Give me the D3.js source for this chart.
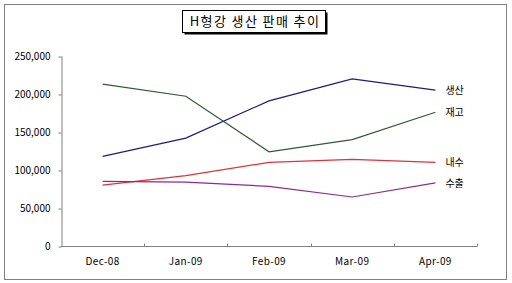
<!DOCTYPE html>
<html><head><meta charset="utf-8">
<script src="https://cdn.jsdelivr.net/npm/d3@7"></script>
<style>body{margin:0;background:#fff;}svg{display:block;}</style>
</head><body>
<svg id="c" width="512" height="283"></svg>
<script>
const title = "H형강 생산 판매 추이";
const categories = ["Dec-08","Jan-09","Feb-09","Mar-09","Apr-09"];
const seriesNames = ["생산","재고","내수","수출"];
const production = [118000,142000,191000,220000,205000];
const inventory = [213000,197000,124000,140000,176000];
const domestic = [80000,92500,110000,114000,110000];
const exportS = [85000,84000,78500,64500,83000];
const seriesColors = ["#1c1c80","#2f5a2f","#e0303c","#8c2a8c"];
const yTicks = [0,50000,100000,150000,200000,250000];

const svg = d3.select("#c");
const font = "'Noto Sans CJK KR', 'DejaVu Sans', sans-serif";
// outer frame
svg.append("rect").attr("x",4.5).attr("y",4.5).attr("width",502).attr("height",275)
  .attr("fill","#fff").attr("stroke","#808080").attr("stroke-width",1);

// title box with shadow
svg.append("rect").attr("x",184.5).attr("y",12.5).attr("width",143).attr("height",22).attr("fill","#000");
svg.append("rect").attr("x",182.5).attr("y",10.5).attr("width",143).attr("height",22)
  .attr("fill","#fff").attr("stroke","#000").attr("stroke-width",1);
svg.append("text").attr("x",255).attr("y",26).attr("text-anchor","middle")
  .attr("font-family",font).attr("font-size",13).attr("letter-spacing",1.4).attr("fill","#000").text(title);

const x = d3.scaleBand().domain(categories).range([61,477]);
const y = d3.scaleLinear().domain([0,250000]).range([246,56]);

// y axis
const ya = svg.append("g").attr("transform","translate(61.5,0)")
  .call(d3.axisLeft(y).tickValues(yTicks).tickSize(3).tickSizeOuter(0).tickPadding(8)
    .tickFormat(d3.format(",")));
ya.select(".domain").attr("stroke","#808080");
ya.selectAll(".tick line").attr("stroke","#808080").attr("transform","translate(0,0.5)");
ya.selectAll("text").attr("font-family",font).attr("font-size",10).attr("fill","#000");

// x axis
const xa = svg.append("g").attr("transform","translate(0,246.5)");
xa.append("line").attr("x1",61).attr("x2",477).attr("stroke","#808080");
const bounds = categories.map((c,i)=>x(c)+x.bandwidth()).slice(0,-1).concat([477]);
xa.selectAll("line.tk").data(bounds).enter().append("line").attr("class","tk")
  .attr("x1",d=>Math.round(d)+0.5).attr("x2",d=>Math.round(d)+0.5).attr("y1",0).attr("y2",-3)
  .attr("stroke","#808080");
xa.selectAll("text").data(categories).enter().append("text")
  .attr("x",d=>x(d)+x.bandwidth()/2).attr("y",18).attr("text-anchor","middle")
  .attr("font-family",font).attr("font-size",10).attr("letter-spacing",0.4).attr("fill","#000").text(d=>d);

// lines
const all = [production,inventory,domestic,exportS];
const line = d3.line().x((d,i)=>x(categories[i])+x.bandwidth()/2).y(d=>y(d));
all.forEach((s,k)=>{
  svg.append("path").datum(s).attr("d",line).attr("fill","none")
    .attr("stroke",seriesColors[k]).attr("stroke-width",1.2);
});
// end labels
all.forEach((s,k)=>{
  svg.append("text").attr("x",x(categories[4])+x.bandwidth()/2+10)
    .attr("y",y(s[4])+4)
    .attr("font-family",font).attr("font-size",10).attr("fill","#000").text(seriesNames[k]);
});
</script>
</body></html>
